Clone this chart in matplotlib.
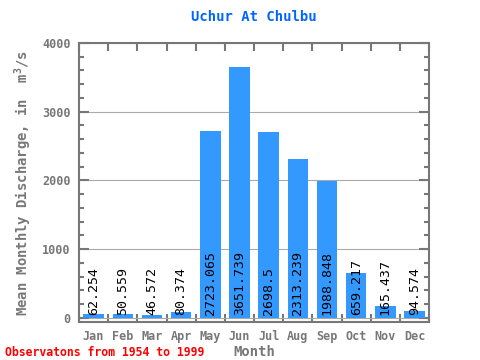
import matplotlib
matplotlib.use("Agg")
import matplotlib.pyplot as plt
import numpy as np
from matplotlib.ticker import MultipleLocator

months = ["Jan", "Feb", "Mar", "Apr", "May", "Jun", "Jul", "Aug", "Sep", "Oct", "Nov", "Dec"]
discharge = [62.254, 50.559, 46.572, 80.374, 2723.065, 3651.739, 2698.5,
             2313.239, 1988.848, 659.217, 165.437, 94.574]
labels = ["62.254", "50.559", "46.572", "80.374", "2723.065", "3651.739", "2698.5",
          "2313.239", "1988.848", "659.217", "165.437", "94.574"]

gray = "#777777"
plt.rcParams['font.family'] = ['DejaVu Sans Mono']

fig = plt.figure(figsize=(4.8, 3.6), dpi=100)
ax = fig.add_axes([0.1646, 0.1056, 0.7294, 0.775])

x = np.arange(len(months))
ax.bar(x, discharge, width=0.7, color="#3399ff", zorder=2)
for xi, lab in zip(x, labels):
    ax.text(xi, 40, lab, rotation=90, ha="center", va="bottom",
            fontsize=9.5, color="black", zorder=3)

ax.set_xlim(-0.5, 11.5)
ax.set_ylim(-60, 4000)
ax.set_xticks(x)
ax.set_xticklabels(months)
ax.set_xticks(np.arange(-0.5, 12, 1), minor=True)
ax.yaxis.set_major_locator(MultipleLocator(1000))
ax.yaxis.set_minor_locator(MultipleLocator(200))
ax.grid(axis="y", which="major", color="#aaaaaa", linewidth=0.8, zorder=1)

ax.tick_params(axis="x", which="major", length=0, labelsize=8.5, labelcolor=gray, pad=6)
ax.tick_params(axis="x", which="minor", direction="in", length=6, width=1.5,
               color=gray, top=True, bottom=True)
ax.tick_params(axis="y", which="major", direction="in", length=7, width=1.5,
               color=gray, labelsize=8.5, labelcolor=gray, left=True, right=True, pad=6)
ax.tick_params(axis="y", which="minor", direction="in", length=3.5, width=1.5,
               color=gray, left=True, right=True)
for lab in ax.get_xticklabels() + ax.get_yticklabels():
    lab.set_fontweight("bold")

for s in ax.spines.values():
    s.set_color(gray)
    s.set_linewidth(1.5)

ax.set_title("Uchur At Chulbu", color="#0066ff", fontsize=10, fontweight="bold", pad=16)
ax.set_xlabel("Month", color=gray, fontsize=10, fontweight="bold", labelpad=1)
ax.set_ylabel(r"Mean Monthly Discharge, in  m$^{\mathregular{3}}$/s", color=gray,
              fontsize=10, fontweight="bold", labelpad=6)
fig.text(0.01, 0.01, "Observatons from 1954 to 1999", color="red",
         fontsize=8.3, fontweight="bold")

fig.savefig("out.png", dpi=100)
